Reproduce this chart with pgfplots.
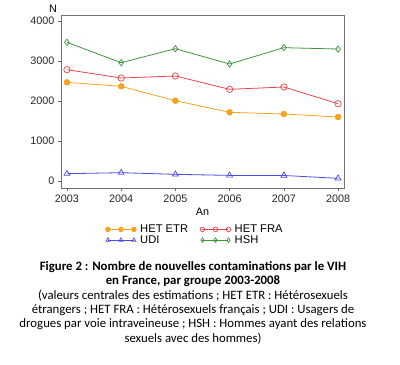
\documentclass[border=0pt]{standalone}
\usepackage{pgfplots}
\pgfplotsset{compat=1.18}
\usepackage{fontspec}
\setmainfont{Liberation Sans}
\newfontfamily\capfont{Carlito}
\definecolor{cetr}{HTML}{F8A21E}
\definecolor{cfra}{HTML}{E8434B}
\definecolor{cudi}{HTML}{4A4AE6}
\definecolor{chsh}{HTML}{3D953D}
\begin{document}
\begin{tikzpicture}
\path[use as bounding box] (0,0) rectangle (400pt,-365pt);
\begin{axis}[
  at={(61pt,-188pt)}, anchor=south west,
  scale only axis, width=283pt, height=173pt,
  xmin=2002.89, xmax=2008.11, ymin=-175, ymax=4150,
  xtick={2003,2004,2005,2006,2007,2008},
  ytick={0,1000,2000,3000,4000},
  /pgf/number format/1000 sep={},
  /pgf/number format/assume math mode=true,
  tick label style={font=\fontsize{10.8}{12}\selectfont, color=black!85},
  xtick pos=lower, ytick pos=left, tick align=outside,
  major tick length=3pt,
  axis line style={draw=black!55, line width=0.8pt},
  every tick/.style={black!60, line width=0.6pt},
  xlabel={An}, xlabel style={font=\fontsize{10.8}{12}\selectfont, yshift=1pt},
  legend columns=2,
  legend cell align=left,
  legend style={at={(axis description cs:0.474,-0.2)}, anchor=north, draw=none, fill=none,
    font=\fontsize{11.2}{11}\selectfont, row sep=-2.5pt,
    /tikz/every odd column/.append style={column sep=2pt},
    /tikz/every even column/.append style={column sep=10pt},
    inner sep=0pt},
  legend image code/.code={\draw[mark repeat=1,mark phase=1,#1,mark size=2.3pt] plot coordinates {(0pt,0pt)(13pt,0pt)(26pt,0pt)};},
]
\addplot[cetr, line width=0.8pt, mark=*, mark size=2.8pt, mark options={fill=cetr, draw=cetr}]
  coordinates {(2003,2467)(2004,2367)(2005,2008)(2006,1717)(2007,1675)(2008,1600)};
\addlegendentry{HET ETR}
\addplot[cfra, line width=0.8pt, mark=o, mark size=3.2pt, mark options={fill=white, line width=0.7pt}]
  coordinates {(2003,2783)(2004,2575)(2005,2625)(2006,2292)(2007,2350)(2008,1933)};
\addlegendentry{HET FRA}
\addplot[cudi, line width=0.8pt, mark=triangle, mark size=3.4pt, mark options={fill=white, line width=0.7pt}]
  coordinates {(2003,183)(2004,208)(2005,167)(2006,140)(2007,138)(2008,67)};
\addlegendentry{UDI}
\addplot[chsh, line width=0.8pt, mark=diamond, mark size=3.2pt, mark options={fill=white, line width=0.7pt}]
  coordinates {(2003,3467)(2004,2958)(2005,3308)(2006,2925)(2007,3333)(2008,3300)};
\addlegendentry{HSH}
\end{axis}
\node[font=\fontsize{10.8}{12}\selectfont] at (53pt,-9pt) {N};
\node[anchor=north, align=center, inner sep=0pt, font=\capfont\fontsize{12.8}{14.4}\selectfont] at (193pt,-261pt)
 {\textbf{Figure 2 : Nombre de nouvelles contaminations par le VIH}\\
  \textbf{en France, par groupe 2003-2008}\\
  (valeurs centrales des estimations ; HET ETR : Hétérosexuels\\
  étrangers ; HET FRA : Hétérosexuels français ; UDI : Usagers de\\
  drogues par voie intraveineuse ; HSH : Hommes ayant des relations\\
  sexuels avec des hommes)};
\end{tikzpicture}
\end{document}
